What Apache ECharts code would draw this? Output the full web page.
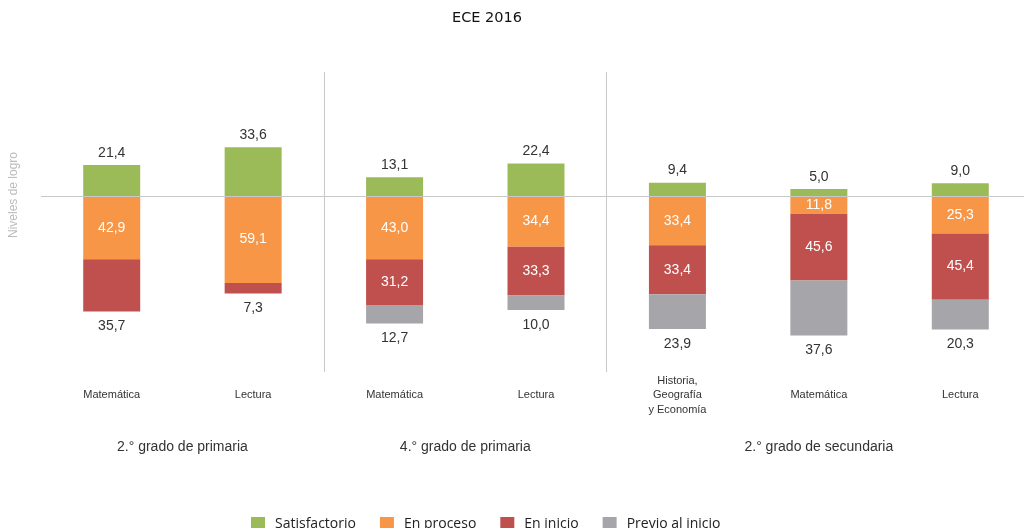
<!DOCTYPE html>
<html>
<head>
<meta charset="utf-8">
<script src="https://cdn.jsdelivr.net/npm/echarts@6/dist/echarts.min.js"></script>
<style>
  html, body { margin: 0; padding: 0; background: #fff; }
  #main { width: 1024px; height: 528px; }
</style>
</head>
<body>
<div id="main"></div>
<script>
// datos ECE 2016 (porcentajes por nivel de logro)
var categorias = ['Matemática', 'Lectura', 'Matemática', 'Lectura', 'Historia,\nGeografía\ny Economía', 'Matemática', 'Lectura'];
var satisfactorio = [21.4, 33.6, 13.1, 22.4, 9.4, 5.0, 9.0];
var enProceso = [42.9, 59.1, 43.0, 34.4, 33.4, 11.8, 25.3];
var enInicio = [35.7, 7.3, 31.2, 33.3, 33.4, 45.6, 45.4];
var previoInicio = [null, null, 12.7, 10.0, 23.9, 37.6, 20.3];
var grupos = ['2.° grado de primaria', '4.° grado de primaria', '2.° grado de secundaria'];
var posGrupos = [1, 3, 5.5];   // centro de cada grupo en unidades de categoría
var separadores = [2, 4];

var colores = ['#9BBB59', '#F79646', '#C0504D', '#A6A6AA'];
var fuente = "'Liberation Sans', Arial, sans-serif";

function fmt(v) {
  return v.toFixed(1).replace('.', ',');
}

var myChart = echarts.init(document.getElementById('main'));

// construye datos negativos; la última capa de cada barra lleva la etiqueta abajo
function bajo(valores, esUltima) {
  return valores.map(function (v, i) {
    if (v == null) return null;
    var ultima = esUltima(i);
    return {
      value: -v,
      label: ultima
        ? { position: 'bottom', distance: 8, color: '#333' }
        : { position: 'inside', color: '#fff' }
    };
  });
}

var etiqueta = {
  show: true,
  fontSize: 14,
  fontFamily: fuente,
  formatter: function (p) { return fmt(Math.abs(p.value)); }
};

var option = {
  animation: false,
  title: {
    text: 'ECE 2016',
    left: 447,
    top: 6,
    textStyle: { fontSize: 14.5, fontWeight: 'normal', color: '#111', fontFamily: "'DejaVu Sans', sans-serif" }
  },
  legend: {
    top: 512,
    left: 246,
    icon: 'rect',
    itemWidth: 14,
    itemHeight: 14,
    itemGap: 24,
    textStyle: { fontSize: 14, color: '#222', fontFamily: "'Open Sans', sans-serif", padding: [0, 0, 0, 5] },
    data: ['Satisfactorio', 'En proceso', 'En inicio', 'Previo al inicio']
  },
  grid: { left: 41, top: 72, width: 990, height: 300, outerBoundsMode: 'none', containLabel: false },
  xAxis: [{
    type: 'category',
    data: categorias,
    position: 'bottom',
    axisLine: { show: false },
    axisTick: { show: false },
    axisLabel: {
      margin: 23,
      verticalAlign: 'middle',
      lineHeight: 14.5,
      fontSize: 11,
      color: '#333',
      fontFamily: fuente
    }
  }, {
    type: 'value',
    min: 0,
    max: 7,
    interval: 0.5,
    position: 'bottom',
    axisLine: { show: false },
    axisTick: { show: false },
    splitLine: { show: false },
    axisLabel: {
      margin: 75,
      verticalAlign: 'middle',
      fontSize: 14,
      color: '#333',
      fontFamily: fuente,
      formatter: function (v) {
        var k = posGrupos.indexOf(v);
        return k >= 0 ? grupos[k] : '';
      }
    }
  }],
  yAxis: {
    type: 'value',
    min: -120,
    max: 85,
    show: false
  },
  graphic: [{
    type: 'text',
    x: 14,
    y: 195,
    rotation: Math.PI / 2,
    style: {
      text: 'Niveles de logro',
      fill: '#bbb',
      fontSize: 12,
      fontFamily: fuente,
      align: 'center',
      verticalAlign: 'middle'
    }
  }],
  series: [{
    name: 'Satisfactorio',
    type: 'bar',
    stack: 'total',
    barWidth: 57,
    itemStyle: { color: colores[0] },
    label: Object.assign({}, etiqueta, { position: 'top', color: '#333' }),
    data: satisfactorio
  }, {
    name: 'En proceso',
    type: 'bar',
    stack: 'total',
    barWidth: 57,
    itemStyle: { color: colores[1] },
    label: etiqueta,
    data: bajo(enProceso, function () { return false; })
  }, {
    name: 'En inicio',
    type: 'bar',
    stack: 'total',
    barWidth: 57,
    itemStyle: { color: colores[2] },
    label: etiqueta,
    data: bajo(enInicio, function (i) { return previoInicio[i] == null; })
  }, {
    name: 'Previo al inicio',
    type: 'bar',
    stack: 'total',
    barWidth: 57,
    itemStyle: { color: colores[3] },
    label: etiqueta,
    data: bajo(previoInicio, function () { return true; })
  }, {
    // líneas de referencia: eje cero y separadores de grado
    type: 'line',
    xAxisIndex: 1,
    data: [],
    silent: true,
    z: 10,
    markLine: {
      silent: true,
      symbol: 'none',
      label: { show: false },
      lineStyle: { color: '#c8c8c8', type: 'solid', width: 1 },
      data: separadores.map(function (s) { return { xAxis: s }; }).concat([{ yAxis: 0 }])
    }
  }]
};

myChart.setOption(option);
</script>
</body>
</html>
